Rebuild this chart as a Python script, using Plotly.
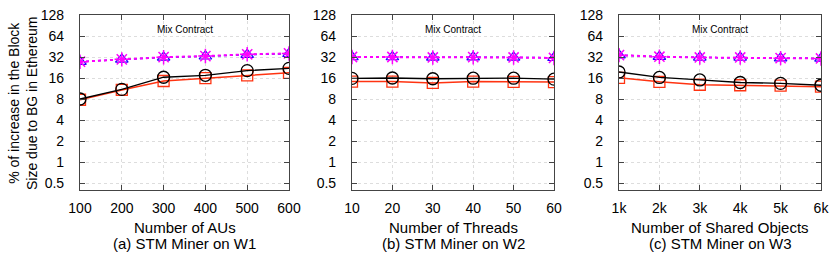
import plotly.graph_objects as go
import math

# ---- data ----
x_a = [100, 200, 300, 400, 500, 600]
x_b = [10, 20, 30, 40, 50, 60]
x_c = [1000, 2000, 3000, 4000, 5000, 6000]
x_c_labels = ["1k", "2k", "3k", "4k", "5k", "6k"]

black_a = [8.0, 11.0, 16.4, 17.5, 20.4, 22.0]
red_a = [7.8, 10.8, 14.5, 15.9, 17.5, 19.0]
blue_a = [27.4, 29.6, 31.6, 32.8, 34.6, 35.6]
mag_a = [27.4, 29.6, 31.8, 33.0, 35.0, 36.0]

black_b = [15.8, 16.0, 15.6, 15.9, 15.9, 15.4]
red_b = [14.2, 14.2, 13.6, 14.2, 14.1, 14.0]
blue_b = [32.0, 32.0, 31.6, 31.8, 31.6, 31.2]
mag_b = [32.0, 32.0, 31.5, 31.8, 31.5, 31.0]

black_c = [19.5, 16.3, 15.0, 13.8, 13.4, 12.6]
red_c = [16.1, 14.1, 12.8, 12.6, 12.4, 12.0]
blue_c = [34.0, 32.3, 31.5, 31.5, 30.8, 30.5]
mag_c = [34.0, 32.3, 31.5, 31.5, 30.8, 30.5]

y_ticks = [0.5, 1, 2, 4, 8, 16, 32, 64, 128]
y_tick_labels = ["0.5", "1", "2", "4", "8", "16", "32", "64", "128"]

x_titles = ["Number of AUs", "Number of Threads", "Number of Shared Objects"]
sub_titles = ["(a) STM Miner on W1", "(b) STM Miner on W2", "(c) STM Miner on W3"]
note_text = "Mix Contract"
y_title = "% of increase in the Block<br>Size due to BG in Ethereum"

W, H = 830, 260
FONT = "Liberation Sans, Arial, sans-serif"

domains = [(80, 289), (352, 554), (619, 821)]
y_top, y_bot = 15, 190

fig = go.Figure()

panels = [
    (x_a, black_a, red_a, blue_a, mag_a, None),
    (x_b, black_b, red_b, blue_b, mag_b, None),
    (x_c, black_c, red_c, blue_c, mag_c, x_c_labels),
]

ylo = math.log10(0.5) - (7 / 21) * math.log10(2)
yhi = math.log10(128)

for i, (xs, bk, rd, bl, mg, xlabels) in enumerate(panels):
    n = "" if i == 0 else str(i + 1)
    xa, ya = "x" + n, "y" + n
    fig.add_trace(go.Scatter(x=xs, y=rd, xaxis=xa, yaxis=ya, mode="lines+markers",
                             line=dict(color="#ff3311", width=1.5),
                             marker=dict(symbol="square-open", size=11, color="#ff3311",
                                         line=dict(color="#ff3311", width=1.3)),
                             showlegend=False))
    fig.add_trace(go.Scatter(x=xs, y=bk, xaxis=xa, yaxis=ya, mode="lines+markers",
                             line=dict(color="#000000", width=1.3),
                             marker=dict(symbol="circle-open", size=12, color="#000000",
                                         line=dict(color="#000000", width=1.3)),
                             showlegend=False))
    fig.add_trace(go.Scatter(x=xs, y=bl, xaxis=xa, yaxis=ya, mode="lines+markers",
                             line=dict(color="#2200ff", width=1.5, dash="dot"),
                             marker=dict(symbol="triangle-up-open", size=11, color="#2200ff",
                                         line=dict(color="#2200ff", width=1.2)),
                             showlegend=False))
    fig.add_trace(go.Scatter(x=xs, y=mg, xaxis=xa, yaxis=ya, mode="lines+markers",
                             line=dict(color="#ff00ff", width=2, dash="dot"),
                             marker=dict(symbol="asterisk-open", size=12, color="#ff00ff",
                                         line=dict(color="#ff00ff", width=1.5)),
                             showlegend=False))

    d0, d1 = domains[i]
    xaxis = dict(domain=[d0 / W, d1 / W], range=[xs[0], xs[-1]], anchor=ya,
                 tickvals=xs, ticktext=xlabels if xlabels else [str(v) for v in xs],
                 ticks="inside", ticklen=5, tickcolor="#444", mirror="allticks",
                 showline=True, linecolor="#444", linewidth=1.2,
                 showgrid=True, gridcolor="#dddddd", griddash="dot", gridwidth=1,
                 zeroline=False, tickfont=dict(family=FONT, size=14, color="#000"),
                 ticklabelstandoff=5, automargin=False)
    yaxis = dict(domain=[1 - y_bot / H, 1 - y_top / H], type="log", range=[ylo, yhi],
                 anchor=xa, tickvals=y_ticks, ticktext=y_tick_labels,
                 ticks="inside", ticklen=5, tickcolor="#444", mirror="allticks",
                 showline=True, linecolor="#444", linewidth=1.2,
                 showgrid=True, gridcolor="#dddddd", griddash="dot", gridwidth=1,
                 zeroline=False, tickfont=dict(family=FONT, size=14, color="#000"),
                 ticklabelstandoff=12, automargin=False)
    fig.layout["xaxis" + n] = xaxis
    fig.layout["yaxis" + n] = yaxis

    cx = (d0 + d1) / 2 / W
    fig.add_annotation(x=cx, y=1 - 227 / H, xref="paper", yref="paper", text=x_titles[i],
                       showarrow=False, font=dict(family=FONT, size=15, color="#000"),
                       xanchor="center", yanchor="middle")
    fig.add_annotation(x=cx, y=1 - 243 / H, xref="paper", yref="paper", text=sub_titles[i],
                       showarrow=False, font=dict(family=FONT, size=15, color="#000"),
                       xanchor="center", yanchor="middle")
    fig.add_annotation(x=cx, y=1 - 29 / H, xref="paper", yref="paper", text=note_text,
                       showarrow=False, font=dict(family=FONT, size=10, color="#000"),
                       xanchor="center", yanchor="middle")

fig.add_annotation(x=23 / W, y=1 - 103 / H, xref="paper", yref="paper", text=y_title,
                   textangle=-90, showarrow=False,
                   font=dict(family=FONT, size=14, color="#000"),
                   xanchor="center", yanchor="middle")

fig.update_layout(width=W, height=H, margin=dict(l=0, r=0, t=0, b=0, autoexpand=False),
                  paper_bgcolor="white", plot_bgcolor="white")

fig.write_html("out.html", config={"displayModeBar": False},
               post_script="document.body.style.margin='0';document.body.style.overflow='hidden';")
